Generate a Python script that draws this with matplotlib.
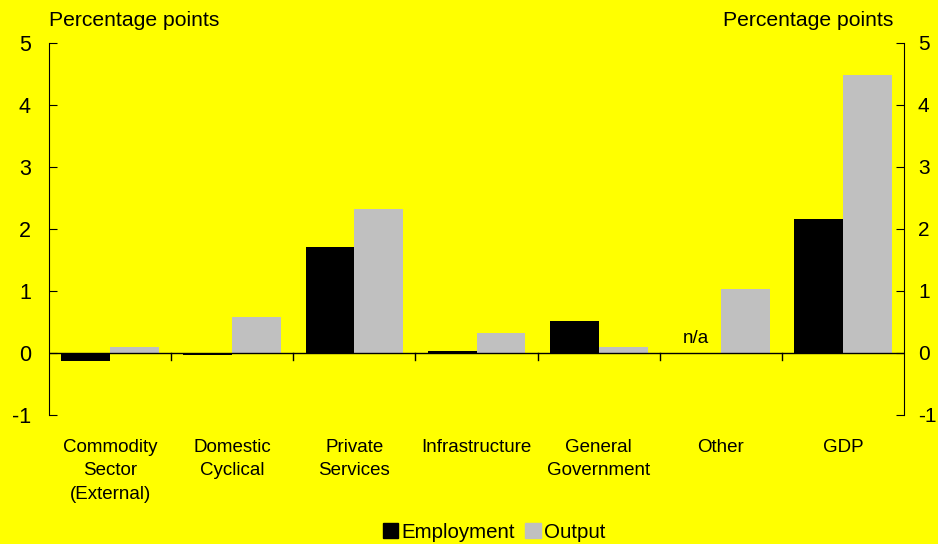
import matplotlib
matplotlib.use("Agg")
import matplotlib.pyplot as plt
import numpy as np
from matplotlib.patches import Patch

plt.rcParams['font.family'] = ['Liberation Sans', 'DejaVu Sans']
plt.rcParams['axes.unicode_minus'] = False

categories = ["Commodity\nSector\n(External)", "Domestic\nCyclical", "Private\nServices",
              "Infrastructure", "General\nGovernment", "Other", "GDP"]
employment = [-0.13, -0.04, 1.71, 0.03, 0.52, np.nan, 2.16]
output = [0.10, 0.58, 2.32, 0.32, 0.10, 1.03, 4.48]
yticks = [-1, 0, 1, 2, 3, 4, 5]

bg = "#FFFF00"
fig = plt.figure(figsize=(9.38, 5.44), dpi=100, facecolor=bg)
ax = fig.add_axes([49/938, 1-415/544, (904-49)/938, (415-43)/544])
ax.set_facecolor(bg)

x = np.arange(len(categories))
w = 0.4
ax.bar(x - w/2, employment, w, color="black", label="Employment")
ax.bar(x + w/2, output, w, color="#C0C0C0", label="Output")

ax.text(x[5] - w/2, 0.1, "n/a", ha="center", va="bottom", fontsize=13.5)

ax.set_xlim(-0.5, len(categories) - 0.5)
ax.set_ylim(-1, 5)
ax.set_yticks(yticks)
ax.tick_params(axis='y', direction='in', length=6, labelsize=15.5, pad=13,
               left=True, right=False, labelleft=True, labelright=False)
for s in ["top", "bottom", "right"]:
    ax.spines[s].set_visible(False)

ax2 = ax.twinx()
ax2.set_ylim(-1, 5)
ax2.set_yticks(yticks)
ax2.tick_params(axis='y', direction='in', length=6, labelsize=15, pad=10)
for s in ["top", "bottom", "left"]:
    ax2.spines[s].set_visible(False)

ax.axhline(0, color="black", lw=1)
for b in np.arange(0.5, len(categories) - 1, 1.0):
    ax.plot([b, b], [0, -0.12], color="black", lw=1)

ax.set_xticks(x)
ax.set_xticklabels(categories, fontsize=13.5, linespacing=1.5)
ax.tick_params(axis='x', length=0, pad=17)

fig.text(49/938, 1-20/544, "Percentage points", fontsize=15.2, ha="left", va="center")
fig.text(893/938, 1-20/544, "Percentage points", fontsize=15.2, ha="right", va="center")

handles = [Patch(color="black"), Patch(color="#C0C0C0")]
fig.legend(handles, ["Employment", "Output"], loc="lower center",
           bbox_to_anchor=(494/938, -0.03),
           ncol=2, frameon=False, fontsize=14.8, handlelength=0.75, handleheight=0.75,
           handletextpad=0.15, columnspacing=0.5)

fig.savefig("out.png", dpi=100, facecolor=bg)
